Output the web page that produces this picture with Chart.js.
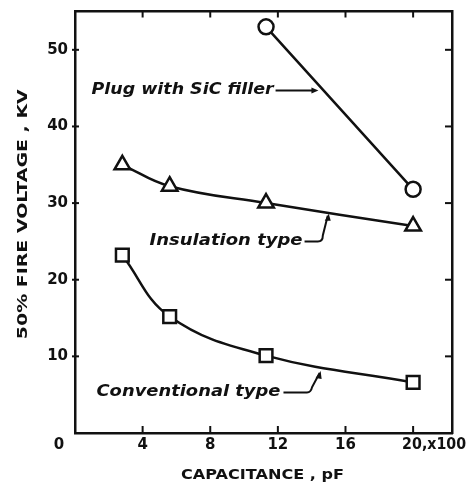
<!DOCTYPE html>
<html>
<head>
<meta charset="utf-8">
<script src="https://cdn.jsdelivr.net/npm/chart.js@4/dist/chart.umd.min.js"></script>
<style>
  html, body { margin: 0; padding: 0; background: #fff; }
  #wrap { width: 471px; height: 486px; position: relative; }
</style>
</head>
<body>
<div id="wrap"><canvas id="c" width="471" height="486"></canvas></div>
<script>
// ---- data (capacitance in units of 100 pF, voltage in kV) ----
const plugCapacitance = [11.3, 20];
const plugVoltage = [53, 31.8];
const capacitance = [2.8, 5.6, 11.3, 20];
const insulationVoltage = [35, 32.2, 30, 27];
const conventionalVoltage = [23.2, 15.2, 10.1, 6.6];
const xTickValues = [0, 4, 8, 12, 16, 20];
const xTickLabels = ['0', '4', '8', '12', '16', '20,x100'];
const yTickValues = [0, 10, 20, 30, 40, 50];
const yTickLabels = ['0', '10', '20', '30', '40', '50'];
const xTitle = 'CAPACITANCE , pF';
const yTitle = '50% FIRE VOLTAGE , KV';
const labelPlug = 'Plug with SiC filler';
const labelInsulation = 'Insulation type';
const labelConventional = 'Conventional type';

const toXY = (xs, ys) => xs.map((x, i) => ({x: x, y: ys[i]}));

const INK = '#111';

function fitText(ctx, text, x, y, width, align) {
  const w = ctx.measureText(text).width;
  const s = width / w;
  ctx.save();
  ctx.translate(x, y);
  ctx.scale(s, 1);
  ctx.textAlign = align || 'left';
  ctx.fillText(text, 0, 0);
  ctx.restore();
}

const decor = {
  id: 'decor',
  afterDraw(chart) {
    const ctx = chart.ctx;
    const xs = chart.scales.x, ys = chart.scales.y;
    const a = chart.chartArea;
    const px = v => xs.getPixelForValue(v);
    const py = v => ys.getPixelForValue(v);
    ctx.save();
    ctx.strokeStyle = INK;
    ctx.fillStyle = INK;
    ctx.lineWidth = 2;
    ctx.lineCap = 'butt';
    // tick marks
    xTickValues.forEach(v => {
      if (v === 0) return;
      const x = px(v);
      ctx.beginPath(); ctx.moveTo(x, a.bottom); ctx.lineTo(x, a.bottom - 7); ctx.stroke();
      ctx.beginPath(); ctx.moveTo(x, a.top); ctx.lineTo(x, a.top + 6); ctx.stroke();
    });
    yTickValues.forEach(v => {
      if (v === 0) return;
      const y = py(v);
      ctx.beginPath(); ctx.moveTo(a.left - 3, y); ctx.lineTo(a.left + 4, y); ctx.stroke();
      ctx.beginPath(); ctx.moveTo(a.right, y); ctx.lineTo(a.right - 7, y); ctx.stroke();
    });
    // tick labels
    ctx.font = 'bold 15px "DejaVu Sans"';
    ctx.textBaseline = 'middle';
    xTickValues.forEach((v, i) => {
      const lbl = xTickLabels[i];
      if (v === 0) {
        ctx.textAlign = 'center';
        ctx.fillText(lbl, a.left - 16, a.bottom + 12);
      } else if (i === xTickValues.length - 1) {
        fitText(ctx, lbl, px(v) - 11, a.bottom + 12, 64, 'left');
      } else {
        ctx.textAlign = 'center';
        ctx.fillText(lbl, px(v), a.bottom + 12);
      }
    });
    yTickValues.forEach((v, i) => {
      if (v === 0) return;
      ctx.textAlign = 'right';
      ctx.fillText(yTickLabels[i], a.left - 7, py(v));
    });
    // axis titles
    ctx.font = 'bold 14px "DejaVu Sans"';
    ctx.textBaseline = 'middle';
    fitText(ctx, xTitle, (a.left + a.right) / 2 - 1, a.bottom + 42, 163, 'center');
    ctx.save();
    ctx.translate(23, (a.top + a.bottom) / 2 - 8);
    ctx.rotate(-Math.PI / 2);
    fitText(ctx, yTitle, 0, 0, 250, 'center');
    ctx.restore();

    // annotations
    ctx.font = 'italic bold 15px "DejaVu Sans"';
    ctx.textBaseline = 'middle';
    ctx.lineWidth = 2;
    // Plug with SiC filler
    let tx = px(0.98), ty = py(44.7);
    fitText(ctx, labelPlug, tx, ty, 182, 'left');
    let ex = tx + 184, tipX = px(14.4);
    ctx.beginPath(); ctx.moveTo(ex, ty); ctx.lineTo(tipX - 5, ty); ctx.stroke();
    ctx.beginPath(); ctx.moveTo(tipX, ty); ctx.lineTo(tipX - 7, ty - 3); ctx.lineTo(tipX - 7, ty + 3); ctx.closePath(); ctx.fill();
    // Insulation type
    tx = px(4.41); ty = py(25.0);
    fitText(ctx, labelInsulation, tx, ty, 153, 'left');
    ex = tx + 155;
    let hx = px(14.6), hy = py(28.6), hx2 = px(14.95);
    ctx.beginPath();
    ctx.moveTo(ex, ty);
    ctx.lineTo(hx - 4, ty);
    ctx.quadraticCurveTo(hx + 1, ty, hx + 1, ty - 6);
    ctx.lineTo(hx2, hy + 2);
    ctx.stroke();
    ctx.beginPath(); ctx.moveTo(hx2 + 1, hy); ctx.lineTo(hx2 - 3, hy + 7); ctx.lineTo(hx2 + 3, hy + 7); ctx.closePath(); ctx.fill();
    // Conventional type
    tx = px(1.27); ty = py(5.3);
    fitText(ctx, labelConventional, tx, ty, 184, 'left');
    ex = tx + 187;
    let cx1 = px(13.9), cx2 = px(14.47), cy2 = py(8.1);
    ctx.beginPath();
    ctx.moveTo(ex, ty);
    ctx.lineTo(cx1 - 3, ty);
    ctx.quadraticCurveTo(cx1 + 1, ty, cx1 + 2, ty - 5);
    ctx.lineTo(cx2, cy2 + 2);
    ctx.stroke();
    ctx.beginPath(); ctx.moveTo(cx2 + 1, cy2); ctx.lineTo(cx2 - 4, cy2 + 7); ctx.lineTo(cx2 + 2, cy2 + 8); ctx.closePath(); ctx.fill();
    ctx.restore();
  }
};

const common = {
  borderColor: INK,
  borderWidth: 2.5,
  pointBackgroundColor: '#fff',
  pointBorderColor: INK,
  pointBorderWidth: 2.5,
  tension: 0.4,
  fill: false
};

const axisBase = (min, max, pos) => ({
  type: 'linear',
  position: pos,
  min: min, max: max,
  grid: { display: false, drawTicks: false },
  ticks: { display: false },
  border: { display: true, color: INK, width: 2.5 }
});

new Chart(document.getElementById('c'), {
  type: 'line',
  data: {
    datasets: [
      Object.assign({ label: labelPlug, data: toXY(plugCapacitance, plugVoltage), pointStyle: 'circle', pointRadius: 7.5 }, common),
      Object.assign({ label: labelInsulation, data: toXY(capacitance, insulationVoltage), pointStyle: 'triangle', pointRadius: 9 }, common),
      Object.assign({ label: labelConventional, data: toXY(capacitance, conventionalVoltage), pointStyle: 'rect', pointRadius: 9 }, common)
    ]
  },
  options: {
    responsive: false,
    animation: false,
    events: [],
    layout: { padding: { left: 75, top: 8, right: 19, bottom: 53 } },
    plugins: { legend: { display: false }, tooltip: { enabled: false } },
    scales: {
      x: axisBase(0, 22.3, 'bottom'),
      y: axisBase(0, 55, 'left'),
      xTop: axisBase(0, 22.3, 'top'),
      yRight: axisBase(0, 55, 'right')
    }
  },
  plugins: [decor]
});
</script>
</body>
</html>
